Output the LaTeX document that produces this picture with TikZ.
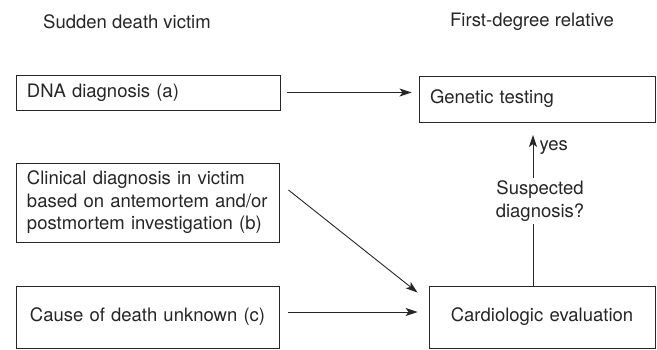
\documentclass[tikz,border=0pt]{standalone}
\usepackage{fontspec}
\setmainfont{TeX Gyre Heros}
\usetikzlibrary{calc,positioning,arrows.meta}

\begin{document}
\begin{tikzpicture}[x=1pt,y=-1pt,
    font=\fontsize{18.5}{22.5}\selectfont,
    lbl/.style={text=black!85},
    box/.style={draw=black!85,line width=.9pt,text=black!85,inner xsep=11pt,inner ysep=0pt},
    arr/.style={draw=black!85,line width=.9pt,-{Stealth[length=12pt,width=8pt,inset=3pt]}}]
    \useasboundingbox (0,0) rectangle (657,350);
    \node[lbl] (victim) at (127,22) {Sudden death victim};
    \node[lbl] (relative) at (532,22) {First-degree relative};
    \node[box,minimum width=264pt,minimum height=35pt,text width=242pt,align=left] (dna) at (148,92.5) {DNA diagnosis (a)};
    \node[box,minimum width=263pt,minimum height=79pt,text width=241pt,align=left] (clinical) at (147.5,202.5)
      {Clinical diagnosis in victim\\based on antemortem and/or\\postmortem investigation (b)};
    \node[box,minimum width=263pt,minimum height=62pt,text width=241pt,align=center] (cause) at (147.5,317) {Cause of death unknown (c)};
    \node[box,minimum width=236pt,minimum height=46pt,text width=214pt,align=left] (genetic) at (537,99) {Genetic testing};
    \node[box,minimum width=226pt,minimum height=62pt,text width=204pt,align=center] (cardio) at (542,317) {Cardiologic evaluation};
    \coordinate (yestip) at (533,135);
    \draw[arr,shorten <=7pt,shorten >=7pt] (dna.east) -- (dna.east -| genetic.west);
    \draw[arr] ([xshift=9pt,yshift=12.5pt]clinical.east) -- ([xshift=-11pt,yshift=-7pt]cardio.north west);
    \draw[arr] ([xshift=9pt,yshift=5pt]cause.east) -- ([xshift=-11pt,yshift=5pt]cardio.west);
    \draw[arr] (cardio.north -| yestip) -- node[lbl,pos=.56,fill=white,align=center,inner sep=3pt,xshift=7pt] (suspect) {Suspected\\diagnosis?} (yestip);
    \node[lbl,anchor=west] (yes) at ([xshift=3pt,yshift=-13pt]yestip) {yes};
\end{tikzpicture}
\end{document}
